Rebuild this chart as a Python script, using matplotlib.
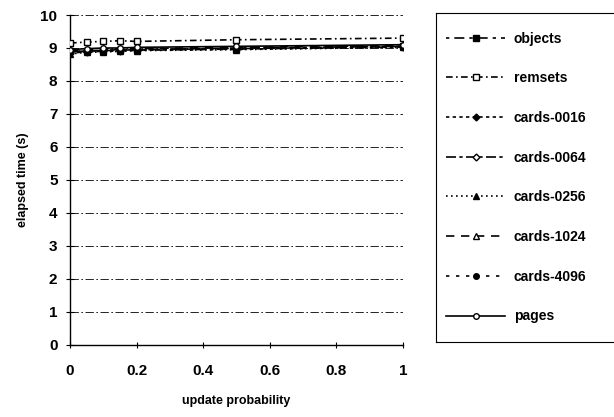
import matplotlib.pyplot as plt
import numpy as np

plt.rcParams["font.family"] = ["Liberation Sans", "DejaVu Sans"]
plt.rcParams["font.weight"] = "bold"
plt.rcParams["axes.labelweight"] = "bold"

# data
update_prob = [0, 0.05, 0.1, 0.15, 0.2, 0.5, 1.0]
objects = [8.90, 8.90, 8.92, 8.93, 8.95, 8.98, 9.05]
remsets = [9.15, 9.18, 9.20, 9.22, 9.20, 9.25, 9.30]
cards_0016 = [8.85, 8.88, 8.90, 8.92, 8.93, 8.97, 9.03]
cards_0064 = [8.88, 8.92, 8.93, 8.95, 8.95, 9.00, 9.05]
cards_0256 = [8.82, 8.87, 8.88, 8.90, 8.92, 8.95, 9.02]
cards_1024 = [8.90, 8.95, 8.95, 8.97, 8.98, 9.02, 9.07]
cards_4096 = [8.87, 8.90, 8.90, 8.92, 8.93, 8.96, 9.03]
pages = [8.95, 8.98, 9.00, 9.00, 9.02, 9.05, 9.10]

series = [
    ("objects", objects, "s", "k", (0, (2, 3, 6, 3))),
    ("remsets", remsets, "s", "w", (0, (4, 2, 1, 2))),
    ("cards-0016", cards_0016, "D", "k", (0, (2, 2))),
    ("cards-0064", cards_0064, "D", "w", (0, (6, 2, 2, 2))),
    ("cards-0256", cards_0256, "^", "k", (0, (1, 2))),
    ("cards-1024", cards_1024, "^", "w", (0, (5, 4))),
    ("cards-4096", cards_4096, "o", "k", (0, (2, 4))),
    ("pages", pages, "o", "w", "-"),
]

fig = plt.figure(figsize=(6.14, 4.17), dpi=100)
ax = fig.add_axes([0.114, 0.173, 0.542, 0.791])

for y in range(1, 11):
    ax.axhline(y, color="k", linewidth=0.6, linestyle=(0, (10, 3, 2, 3)), zorder=1)

handles = []
for name, vals, mk, fc, ls in series:
    (h,) = ax.plot(update_prob, vals, color="k", linestyle=ls, linewidth=1.2,
                   marker=mk, markersize=4 if mk != "D" else 3.5,
                   markerfacecolor=fc, markeredgecolor="k", label=name, zorder=3)
    handles.append(h)

ax.set_xlim(0, 1)
ax.set_ylim(0, 10)
ax.set_xticks(np.arange(0, 1.01, 0.2))
ax.set_xticklabels(["0", "0.2", "0.4", "0.6", "0.8", "1"])
ax.set_yticks(range(0, 11))
ax.tick_params(axis="y", direction="inout", length=6, labelsize=11, pad=6)
ax.tick_params(axis="x", direction="inout", length=4, labelsize=11, pad=12)
for s in ["top", "right"]:
    ax.spines[s].set_visible(False)
ax.spines["left"].set_linewidth(1)
ax.spines["bottom"].set_linewidth(1)
ax.set_xlabel("update probability", fontsize=9, labelpad=12)
ax.set_ylabel("elapsed time (s)", fontsize=9, labelpad=8)

# legend box to the right
lax = fig.add_axes([0.71, 0.18, 0.295, 0.789])
lax.set_xticks([])
lax.set_yticks([])
for s in lax.spines.values():
    s.set_linewidth(0.8)
lax.legend(handles, [h.get_label() for h in handles], loc="center left",
           frameon=False, fontsize=10, labelspacing=1.85, handlelength=4.3,
           handletextpad=0.6, borderaxespad=0.3)

fig.savefig("out.png", dpi=100)
